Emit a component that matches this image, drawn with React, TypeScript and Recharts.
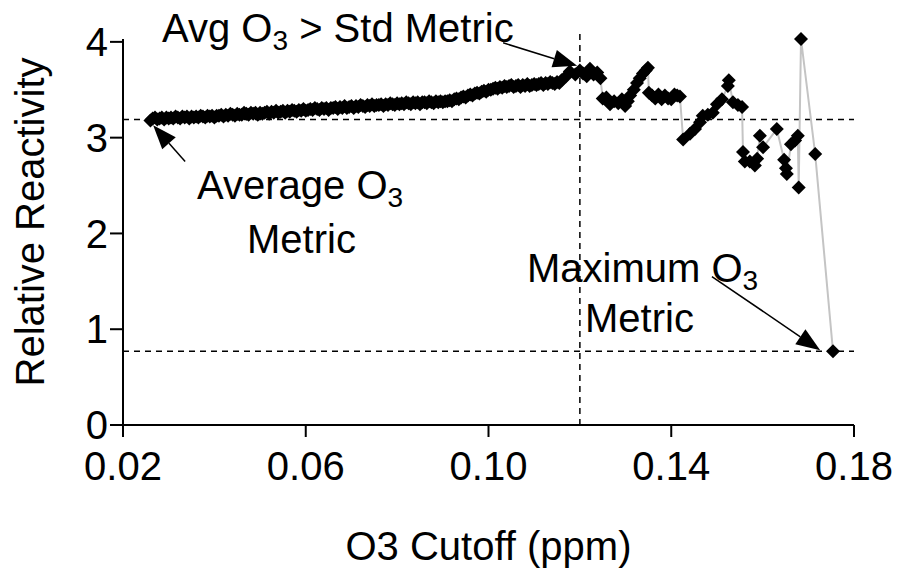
import React from "react";
import { LineChart, Line, XAxis, YAxis, ReferenceLine } from "recharts";

// dense part of the curve (cutoffs up to ~0.115 ppm)
const denseCutoff = [
  0.0260, 0.0265, 0.0270, 0.0275, 0.0280, 0.0285, 0.0290, 0.0295, 0.0300, 0.0305,
  0.0310, 0.0315, 0.0320, 0.0325, 0.0330, 0.0335, 0.0340, 0.0345, 0.0350, 0.0355,
  0.0360, 0.0365, 0.0370, 0.0375, 0.0380, 0.0385, 0.0390, 0.0395, 0.0400, 0.0405,
  0.0410, 0.0415, 0.0420, 0.0425, 0.0430, 0.0435, 0.0440, 0.0445, 0.0450, 0.0455,
  0.0460, 0.0465, 0.0470, 0.0475, 0.0480, 0.0485, 0.0490, 0.0495, 0.0500, 0.0505,
  0.0510, 0.0515, 0.0520, 0.0525, 0.0530, 0.0535, 0.0540, 0.0545, 0.0550, 0.0555,
  0.0560, 0.0565, 0.0570, 0.0575, 0.0580, 0.0585, 0.0590, 0.0595, 0.0600, 0.0605,
  0.0610, 0.0615, 0.0620, 0.0625, 0.0630, 0.0635, 0.0640, 0.0645, 0.0650, 0.0655,
  0.0660, 0.0665, 0.0670, 0.0675, 0.0680, 0.0685, 0.0690, 0.0695, 0.0700, 0.0705,
  0.0710, 0.0715, 0.0720, 0.0725, 0.0730, 0.0735, 0.0740, 0.0745, 0.0750, 0.0755,
  0.0760, 0.0765, 0.0770, 0.0775, 0.0780, 0.0785, 0.0790, 0.0795, 0.0800, 0.0805,
  0.0810, 0.0815, 0.0820, 0.0825, 0.0830, 0.0835, 0.0840, 0.0845, 0.0850, 0.0855,
  0.0860, 0.0865, 0.0870, 0.0875, 0.0880, 0.0885, 0.0890, 0.0895, 0.0900, 0.0905,
  0.0910, 0.0915, 0.0920, 0.0925, 0.0930, 0.0935, 0.0940, 0.0945, 0.0950, 0.0955,
  0.0960, 0.0965, 0.0970, 0.0975, 0.0980, 0.0985, 0.0990, 0.0995, 0.1000, 0.1005,
  0.1010, 0.1015, 0.1020, 0.1025, 0.1030, 0.1035, 0.1040, 0.1045, 0.1050, 0.1055,
  0.1060, 0.1065, 0.1070, 0.1075, 0.1080, 0.1085, 0.1090, 0.1095, 0.1100, 0.1105,
  0.1110, 0.1115, 0.1120, 0.1125, 0.1130, 0.1135, 0.1140, 0.1145, 0.1150, 0.1155,
];
const denseReactivity = [
  3.18, 3.20, 3.21, 3.19, 3.20, 3.21, 3.19, 3.21, 3.20, 3.21,
  3.20, 3.22, 3.21, 3.20, 3.22, 3.21, 3.22, 3.20, 3.22, 3.21,
  3.22, 3.21, 3.23, 3.22, 3.21, 3.23, 3.22, 3.23, 3.21, 3.23,
  3.23, 3.24, 3.22, 3.24, 3.23, 3.25, 3.24, 3.23, 3.25, 3.24,
  3.24, 3.26, 3.25, 3.24, 3.26, 3.25, 3.26, 3.24, 3.26, 3.25,
  3.26, 3.27, 3.25, 3.27, 3.26, 3.28, 3.26, 3.27, 3.28, 3.26,
  3.28, 3.27, 3.29, 3.28, 3.27, 3.29, 3.28, 3.30, 3.28, 3.29,
  3.30, 3.29, 3.31, 3.30, 3.29, 3.31, 3.30, 3.31, 3.29, 3.31,
  3.31, 3.32, 3.30, 3.32, 3.31, 3.33, 3.31, 3.32, 3.33, 3.31,
  3.33, 3.32, 3.34, 3.33, 3.32, 3.34, 3.33, 3.35, 3.33, 3.34,
  3.34, 3.35, 3.33, 3.35, 3.34, 3.36, 3.35, 3.34, 3.36, 3.35,
  3.36, 3.35, 3.37, 3.36, 3.35, 3.37, 3.36, 3.37, 3.35, 3.37,
  3.37, 3.36, 3.38, 3.37, 3.36, 3.38, 3.37, 3.38, 3.37, 3.38,
  3.38, 3.39, 3.38, 3.40, 3.41, 3.40, 3.42, 3.43, 3.42, 3.44,
  3.45, 3.44, 3.46, 3.47, 3.46, 3.48, 3.49, 3.48, 3.50, 3.50,
  3.51, 3.52, 3.51, 3.53, 3.52, 3.54, 3.53, 3.54, 3.55, 3.53,
  3.54, 3.55, 3.53, 3.55, 3.54, 3.56, 3.54, 3.55, 3.56, 3.55,
  3.56, 3.57, 3.55, 3.57, 3.56, 3.58, 3.57, 3.56, 3.58, 3.57,
];

// sparse, noisy tail
const tailCutoff = [
  0.1160, 0.1170, 0.1178, 0.1190, 0.1200, 0.1207, 0.1215, 0.1222, 0.1230, 0.1238,
  0.1245, 0.1250, 0.1258, 0.1266, 0.1275, 0.1284, 0.1292, 0.1299, 0.1305, 0.1310,
  0.1318, 0.1325, 0.1331, 0.1338, 0.1344, 0.1349, 0.1351, 0.1358, 0.1365, 0.1372,
  0.1379, 0.1386, 0.1393, 0.1400, 0.1407, 0.1413, 0.1419, 0.1426, 0.1441, 0.1452,
  0.1463, 0.1469, 0.1480, 0.1491, 0.1500, 0.1511, 0.1524, 0.1526, 0.1535, 0.1546,
  0.1555, 0.1557, 0.1561, 0.1572, 0.1583, 0.1588, 0.1594, 0.1601, 0.1631, 0.1647,
  0.1651, 0.1653, 0.1662, 0.1671, 0.1677, 0.1679, 0.1684, 0.1715, 0.1754,
];
const tailReactivity = [
  3.60, 3.64, 3.69, 3.66, 3.70, 3.67, 3.64, 3.72, 3.66, 3.68,
  3.62, 3.41, 3.42, 3.35, 3.38, 3.36, 3.40, 3.33, 3.38, 3.44,
  3.50, 3.57, 3.62, 3.67, 3.70, 3.73, 3.47, 3.44, 3.41, 3.45,
  3.40, 3.44, 3.41, 3.40, 3.45, 3.44, 3.43, 2.98, 3.04, 3.09,
  3.16, 3.23, 3.24, 3.26, 3.35, 3.40, 3.54, 3.60, 3.37, 3.34,
  3.32, 2.85, 2.75, 2.75, 2.71, 2.78, 3.02, 2.90, 3.09, 2.77,
  2.68, 2.62, 2.93, 2.97, 3.02, 2.48, 4.03, 2.83, 0.77,
];

const xTicks = [0.02, 0.06, 0.1, 0.14, 0.18];
const yTicks = [0, 1, 2, 3, 4];
const avgMetric = 3.19;
const maxMetric = 0.77;
const stdCutoff = 0.12;

const data = [
  ...denseCutoff.map((x, i) => ({ x, y: denseReactivity[i] })),
  ...tailCutoff.map((x, i) => ({ x, y: tailReactivity[i] })),
];

const FONT = "'Liberation Sans', Arial, sans-serif";

const Diamond = (props: any) => {
  const { cx, cy, index } = props;
  if (cx == null || cy == null) return <g key={index} />;
  const r = 7;
  return (
    <path
      key={index}
      d={`M${cx},${cy - r}L${cx + r},${cy}L${cx},${cy + r}L${cx - r},${cy}Z`}
      fill="#000"
    />
  );
};

const Arrow = (props: any) => {
  const { x1, y1, x2, y2 } = props;
  const a = Math.atan2(y2 - y1, x2 - x1);
  const len = 24;
  const w = 9;
  const bx = x2 - len * Math.cos(a);
  const by = y2 - len * Math.sin(a);
  const nx = -Math.sin(a) * w;
  const ny = Math.cos(a) * w;
  return (
    <g>
      <line x1={x1} y1={y1} x2={bx} y2={by} stroke="#000" strokeWidth={1.5} />
      <polygon points={`${x2},${y2} ${bx + nx},${by + ny} ${bx - nx},${by - ny}`} fill="#000" />
    </g>
  );
};

export default function App() {
  const txt = { fontFamily: FONT, fontSize: 40, fill: "#000" };
  return (
    <div style={{ position: "absolute", left: 0, top: 0, width: 897, height: 571, background: "#fff" }}>
      <LineChart width={897} height={571} data={data} margin={{ top: 39, right: 43, bottom: 0, left: 0 }}>
        <XAxis
          dataKey="x"
          type="number"
          domain={[0.02, 0.18]}
          ticks={xTicks}
          tickFormatter={(v: number) => v.toFixed(2)}
          height={146}
          tickSize={12}
          tickMargin={15}
          stroke="#000"
          strokeWidth={2}
          tick={{ ...txt }}
          label={{ value: "O3 Cutoff (ppm)", position: "insideBottom", offset: 11, style: txt }}
        />
        <YAxis
          type="number"
          domain={[0, 4]}
          ticks={yTicks}
          width={123}
          tickSize={13}
          tickMargin={2}
          stroke="#000"
          strokeWidth={2}
          tick={{ ...txt }}
        />
        <ReferenceLine y={avgMetric} stroke="#000" strokeWidth={1.5} strokeDasharray="6 5" />
        <ReferenceLine y={maxMetric} stroke="#000" strokeWidth={1.5} strokeDasharray="6 5" />
        <ReferenceLine
          segment={[{ x: stdCutoff, y: 0 }, { x: stdCutoff, y: 4.13 }]}
          ifOverflow="visible"
          stroke="#000"
          strokeWidth={1.5}
          strokeDasharray="6 5"
        />
        <Line
          dataKey="y"
          type="linear"
          stroke="#c4c4c4"
          strokeWidth={2}
          dot={Diamond}
          activeDot={false}
          isAnimationActive={false}
        />
        <ReferenceLine segment={[{ x: 0.1032, y: 3.99 }, { x: 0.1194, y: 3.75 }]} ifOverflow="visible" shape={Arrow} />
        <ReferenceLine segment={[{ x: 0.0336, y: 2.75 }, { x: 0.0266, y: 3.13 }]} ifOverflow="visible" shape={Arrow} />
        <ReferenceLine segment={[{ x: 0.1489, y: 1.55 }, { x: 0.1726, y: 0.78 }]} ifOverflow="visible" shape={Arrow} />
      </LineChart>
      <svg width={897} height={571} style={{ position: "absolute", left: 0, top: 0, pointerEvents: "none" }}>
        <text x={30} y={222} transform="rotate(-90 30 222)" textAnchor="middle" dominantBaseline="central" {...txt}>
          Relative Reactivity
        </text>
        <text x={162} y={42} {...txt}>
          Avg O<tspan fontSize={28} dy={8}>3</tspan>
          <tspan dy={-8}> &gt; Std Metric</tspan>
        </text>
        <text x={197} y={199} {...txt}>
          Average O<tspan fontSize={28} dy={8}>3</tspan>
        </text>
        <text x={247} y={253} {...txt}>Metric</text>
        <text x={527} y={282} {...txt}>
          Maximum O<tspan fontSize={28} dy={8}>3</tspan>
        </text>
        <text x={585} y={332} {...txt}>Metric</text>
      </svg>
    </div>
  );
}
